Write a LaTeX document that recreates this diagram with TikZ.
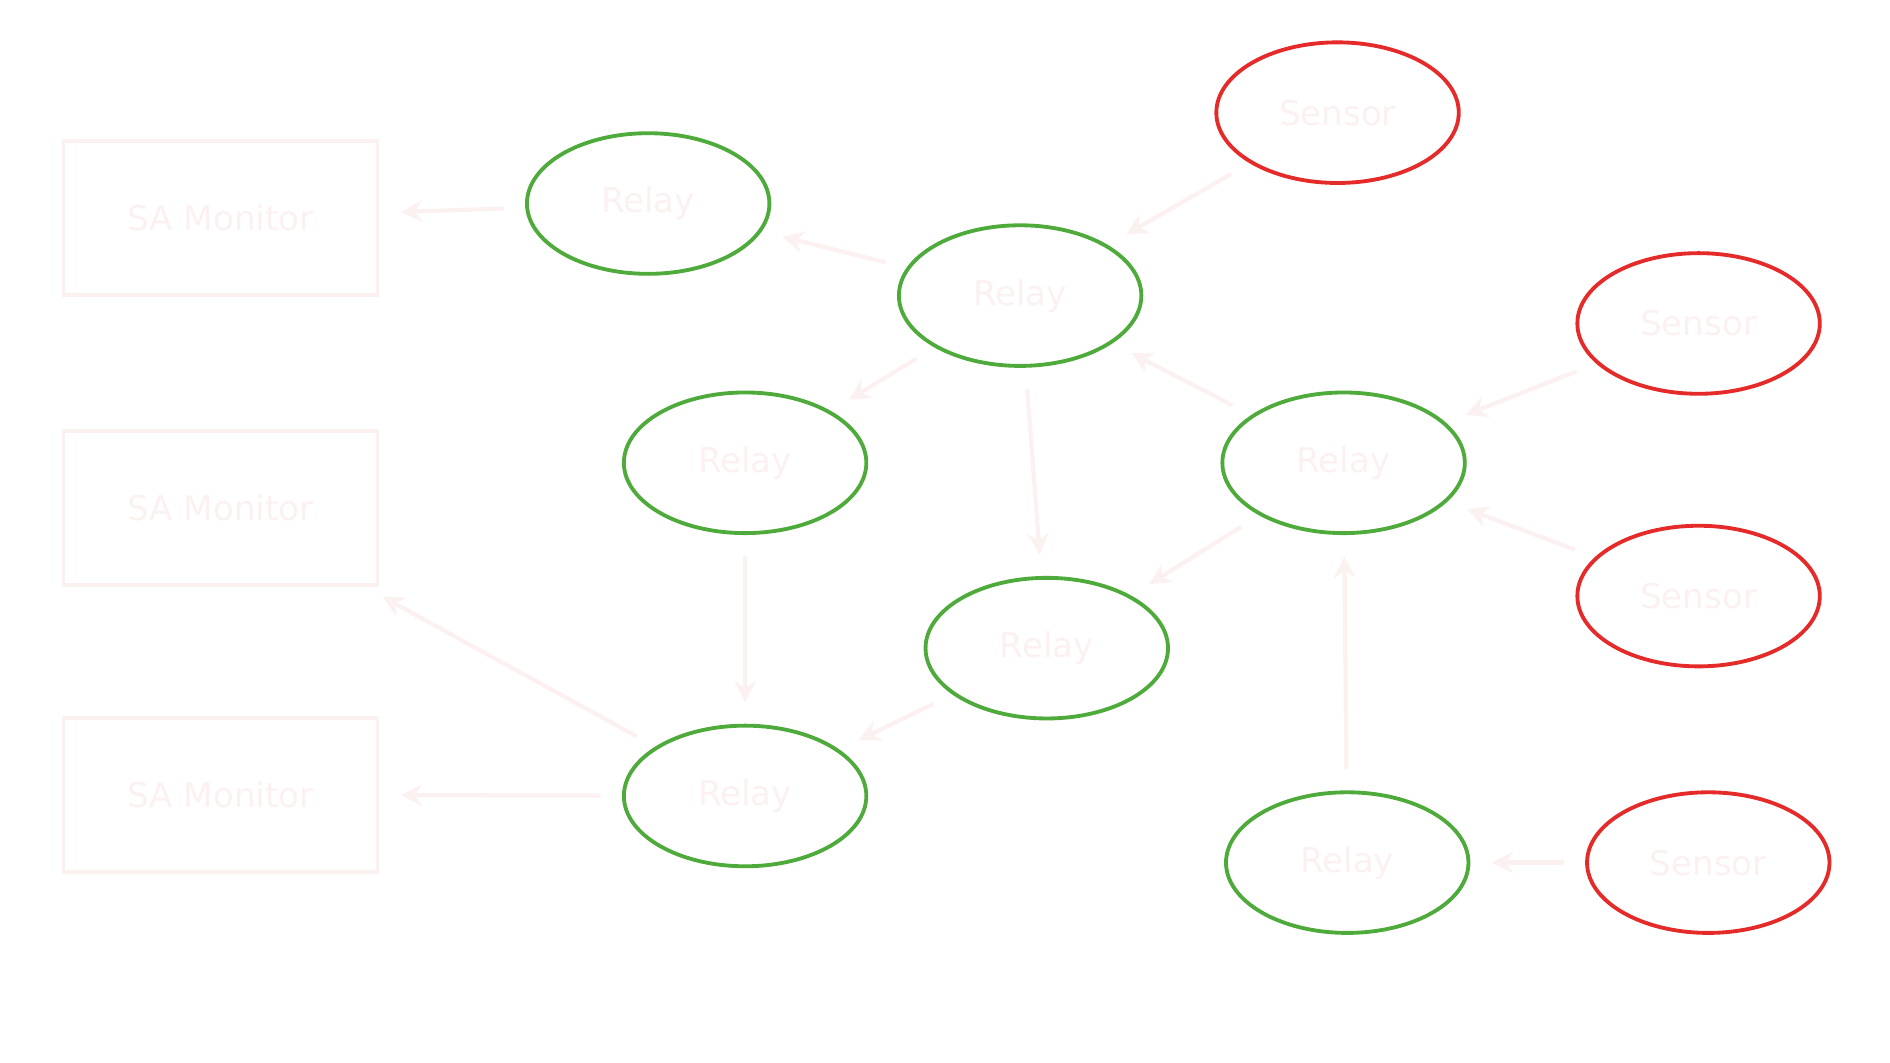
\documentclass[tikz,border=0pt]{standalone}
\usepackage{fontspec}
\setmainfont{DejaVu Sans}
\usetikzlibrary{shapes.geometric, arrows.meta}
\definecolor{paletext}{HTML}{FCF1F1}
\definecolor{relaygreen}{HTML}{4FAA3C}
\definecolor{sensorred}{HTML}{E52A2A}
\tikzset{
    relay/.style={ellipse, draw=relaygreen, line width=0.9pt, minimum width=2cm, minimum height=1.16cm, text=paletext, font=\fontsize{8}{10}\selectfont}, % green relay nodes
    sensor/.style={relay, draw=sensorred}, % red sensor nodes
    monitor/.style={rectangle, draw=paletext, line width=0.9pt, minimum width=2.59cm, minimum height=1.27cm, text=paletext, font=\fontsize{8}{10}\selectfont},
    link/.style={-{Stealth[length=5pt,width=5pt]}, draw=paletext, line width=1pt, shorten >=5pt, shorten <=5pt},
}
\begin{document}
\begin{tikzpicture}[x=0.01cm, y=-0.01cm]
    \useasboundingbox (0,0) rectangle (1560,877);

    % Nodes
    \node[monitor] (m1) at (182,180) {SA Monitor};
    \node[monitor] (m2) at (182,419) {SA Monitor};
    \node[monitor] (m3) at (182,656) {SA Monitor};

    \node[relay] (r1) at (535,168) {Relay};
    \node[relay] (r2) at (842,244) {Relay};
    \node[relay] (r3) at (615,382) {Relay};
    \node[relay] (r4) at (1109,382) {Relay};
    \node[relay] (r5) at (864,535) {Relay};
    \node[relay] (r6) at (615,657) {Relay};
    \node[relay] (r7) at (1112,712) {Relay};

    \node[sensor] (s1) at (1104,93) {Sensor};
    \node[sensor] (s2) at (1402,267) {Sensor};
    \node[sensor] (s3) at (1402,492) {Sensor};
    \node[sensor] (s4) at (1410,712) {Sensor};

    % edges
    \draw[link] (r1) -- (m1);
    \draw[link] (r2) -- (r1);
    \draw[link] (s1) -- (r2);
    \draw[link] (r2) -- (r3);
    \draw[link] (r2) -- (r5);
    \draw[link] (r4) -- (r2);
    \draw[link] (s2) -- (r4);
    \draw[link] (s3) -- (r4);
    \draw[link] (r4) -- (r5);
    \draw[link] (r3) -- (r6);
    \draw[link] (r5) -- (r6);
    \draw[link] (r6) -- (m2);
    \draw[link] (r6) -- (m3);
    \draw[link] (r7) -- (r4);
    \draw[link] (s4) -- (r7);
\end{tikzpicture}
\end{document}
